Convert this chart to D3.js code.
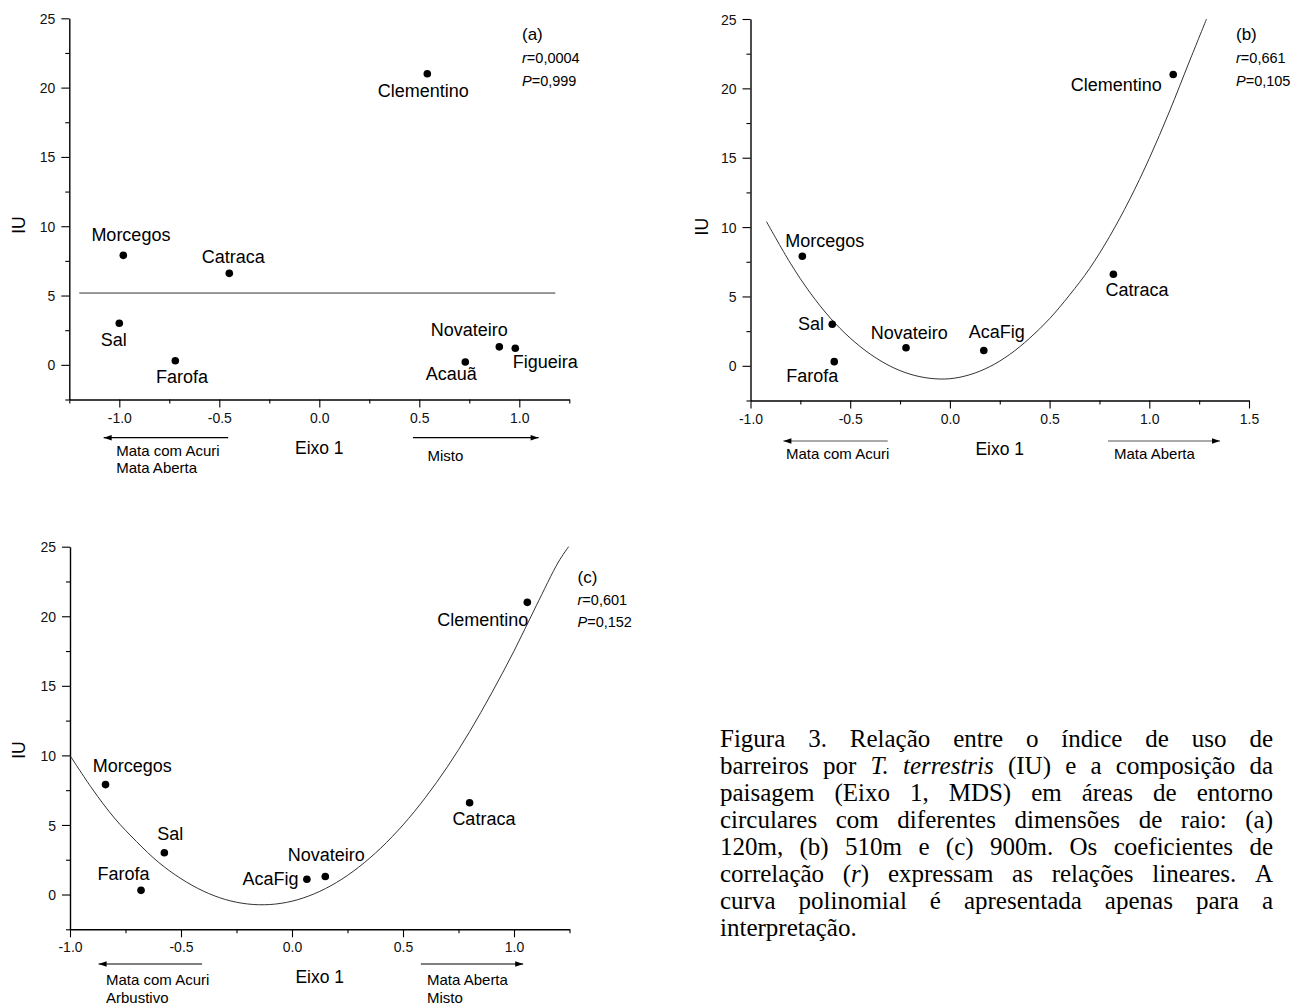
<!DOCTYPE html>
<html><head><meta charset="utf-8">
<script src="https://cdn.jsdelivr.net/npm/d3@7/dist/d3.min.js"></script>
<style>body{margin:0;background:#fff}svg{display:block}</style>
</head><body>
<svg id="chart" width="1305" height="1006"></svg>
<script>
// ---------------- DATA ----------------
const yDomain = [-2.5, 25];
const yMajorTicks = [0, 5, 10, 15, 20, 25];
const yMinorTicks = [-2.5, 2.5, 7.5, 12.5, 17.5, 22.5];

// Panel (a) 120 m
const namesA = ["Clementino", "Morcegos", "Catraca", "Sal", "Farofa", "Novateiro", "Figueira", "Acauã"];
const eixoA  = [0.54, -0.98, -0.45, -1.00, -0.72, 0.90, 0.98, 0.73];
const iuA    = [21.0, 7.9, 6.6, 3.0, 0.3, 1.3, 1.2, 0.2];
const fitLineA = [[-1.20, 5.18], [1.18, 5.18]];
const xMajorA = [-1.0, -0.5, 0.0, 0.5, 1.0];
const xMinorA = [-1.25, -0.75, -0.25, 0.25, 0.75, 1.25];
const statsA = ["(a)", "0,0004", "0,999"];

// Panel (b) 510 m
const namesB = ["Clementino", "Morcegos", "Catraca", "Sal", "Farofa", "Novateiro", "AcaFig"];
const eixoB  = [1.12, -0.74, 0.82, -0.59, -0.58, -0.22, 0.17];
const iuB    = [21.0, 7.9, 6.6, 3.0, 0.3, 1.3, 1.1];
const curveXB = [-0.92, -0.8, -0.7, -0.6, -0.5, -0.4, -0.3, -0.2, -0.1, 0.0, 0.1, 0.2, 0.3, 0.4, 0.5, 0.6, 0.7, 0.8, 0.9, 1.0, 1.1, 1.2, 1.287];
const curveYB = [10.4, 7.4, 5.25, 3.45, 2.0, 0.85, -0.02, -0.6, -0.9, -0.93, -0.64, -0.06, 0.82, 1.99, 3.4, 5.1, 7.0, 9.3, 11.95, 14.95, 18.3, 21.9, 25.0];
const xMajorB = [-1.0, -0.5, 0.0, 0.5, 1.0, 1.5];
const xMinorB = [-0.75, -0.25, 0.25, 0.75, 1.25];
const statsB = ["(b)", "0,661", "0,105"];

// Panel (c) 900 m
const namesC = ["Clementino", "Morcegos", "Catraca", "Sal", "Farofa", "Novateiro", "AcaFig"];
const eixoC  = [1.06, -0.84, 0.80, -0.575, -0.68, 0.15, 0.067];
const iuC    = [21.0, 7.9, 6.6, 3.0, 0.3, 1.3, 1.1];
const curveXC = [-1.0, -0.9, -0.8, -0.7, -0.6, -0.5, -0.4, -0.3, -0.2, -0.1, 0.0, 0.1, 0.2, 0.3, 0.4, 0.5, 0.6, 0.7, 0.8, 0.9, 1.0, 1.1, 1.2, 1.246];
const curveYC = [10.0, 7.6, 5.5, 3.8, 2.3, 1.14, 0.25, -0.36, -0.68, -0.72, -0.48, 0.05, 0.86, 1.96, 3.34, 5.0, 6.95, 9.18, 11.7, 14.5, 17.5, 20.75, 23.9, 25.0];
const xMajorC = [-1.0, -0.5, 0.0, 0.5, 1.0];
const xMinorC = [-0.75, -0.25, 0.25, 0.75, 1.25];
const statsC = ["(c)", "0,601", "0,152"];

const xTitle = "Eixo 1";
const yTitle = "IU";

const gradientA = [["Mata com Acuri", "Mata Aberta"], ["Misto"]];
const gradientB = [["Mata com Acuri"], ["Mata Aberta"]];
const gradientC = [["Mata com Acuri", "Arbustivo"], ["Mata Aberta", "Misto"]];

const captionLines = [
  "Figura 3. Relação entre o índice de uso de",
  "barreiros por *T.* *terrestris* (IU) e a composição da",
  "paisagem (Eixo 1, MDS) em áreas de entorno",
  "circulares com diferentes dimensões de raio: (a)",
  "120m, (b) 510m e (c) 900m. Os coeficientes de",
  "correlação (*r*) expressam as relações lineares. A",
  "curva polinomial é apresentada apenas para a",
  "interpretação."
];

// ---------------- LAYOUT ----------------
const SANS = "'Liberation Sans', Arial, Helvetica, sans-serif";
const SERIF = "'Liberation Serif', 'Times New Roman', serif";
const svg = d3.select("#chart");
svg.append("rect").attr("width", 1305).attr("height", 1006).attr("fill", "#fff");

const panels = [
  {
    names: namesA, eixo: eixoA, iu: iuA, fit: fitLineA, curve: false,
    xDomain: [-1.25, 1.25], xRange: [69.3, 569.3], yRange: [399.5, 18.3],
    xMajor: xMajorA, xMinor: xMinorA, stats: statsA,
    statsPos: [522, 39.5, 63, 86],
    yTitlePos: [19, 225],
    labels: {
      "Clementino": [-4, 23, "middle"], "Morcegos": [7.6, -14, "middle"],
      "Catraca": [4, -10, "middle"], "Sal": [-5.5, 23, "middle"],
      "Farofa": [6.7, 22.4, "middle"], "Novateiro": [-30, -11, "middle"],
      "Figueira": [30, 19.4, "middle"], "Acauã": [-14, 18.3, "middle"]
    },
    gradient: gradientA,
    arrows: [[103.7, 228.2, 437.7, "left"], [412.9, 538.6, 437.7, "right"]],
    arrowColor: "#000",
    gradText: [[116.2, 455.7, 17.6], [427.4, 461, 17.6]]
  },
  {
    names: namesB, eixo: eixoB, iu: iuB, curveX: curveXB, curveY: curveYB, curve: true,
    xDomain: [-1.0, 1.5], xRange: [750.5, 1249], yRange: [400.5, 19],
    xMajor: xMajorB, xMinor: xMinorB, stats: statsB,
    statsPos: [1236, 39.5, 63, 86],
    yTitlePos: [702, 226.7],
    labels: {
      "Clementino": [-11.5, 17, "end"], "Morcegos": [22.5, -9.7, "middle"],
      "Catraca": [23.6, 22, "middle"], "Sal": [-8.2, 6, "end"],
      "Farofa": [-22, 20, "middle"], "Novateiro": [3.3, -9, "middle"],
      "AcaFig": [13, -12.7, "middle"]
    },
    gradient: gradientB,
    arrows: [[783.4, 887.7, 441, "left"], [1108, 1220, 441, "right"]],
    arrowColor: "#555",
    gradText: [[786, 459.3, 17.6], [1114, 459.3, 17.6]]
  },
  {
    names: namesC, eixo: eixoC, iu: iuC, curveX: curveXC, curveY: curveYC, curve: true,
    xDomain: [-1.0, 1.25], xRange: [70, 569.5], yRange: [929.3, 546.7],
    xMajor: xMajorC, xMinor: xMinorC, stats: statsC,
    statsPos: [577.5, 583, 605, 627],
    yTitlePos: [19, 750],
    labels: {
      "Clementino": [1, 23.3, "end"], "Morcegos": [26.8, -13, "middle"],
      "Catraca": [14.3, 22.7, "middle"], "Sal": [5.8, -12.7, "middle"],
      "Farofa": [-17.6, -10, "middle"], "Novateiro": [1, -15.3, "middle"],
      "AcaFig": [-8.3, 5.3, "end"]
    },
    gradient: gradientC,
    arrows: [[98.6, 202.1, 964, "left"], [420.9, 523.2, 964, "right"]],
    arrowColor: "#000",
    gradText: [[106, 985, 17.6], [427, 985, 17.6]]
  }
];

function drawPanel(p) {
  const g = svg.append("g");
  const x = d3.scaleLinear().domain(p.xDomain).range(p.xRange);
  const y = d3.scaleLinear().domain(yDomain).range(p.yRange);

  // X axis
  const gx = g.append("g").attr("transform", `translate(0,${p.yRange[0]})`);
  gx.call(d3.axisBottom(x).tickValues(p.xMajor).tickFormat(v => v.toFixed(1)).tickSize(8).tickSizeOuter(0));
  gx.append("g").call(d3.axisBottom(x).tickValues(p.xMinor).tickFormat("").tickSize(4).tickSizeOuter(0))
    .select(".domain").remove();
  gx.attr("font-family", SANS).attr("font-size", 14);
  gx.selectAll(".tick text").attr("y", 23).attr("dy", null).attr("fill", "#111");

  // Y axis
  const gy = g.append("g").attr("transform", `translate(${p.xRange[0]},0)`);
  gy.call(d3.axisLeft(y).tickValues(yMajorTicks).tickFormat(d3.format("d")).tickSize(8).tickPadding(6).tickSizeOuter(0));
  gy.append("g").call(d3.axisLeft(y).tickValues(yMinorTicks).tickFormat("").tickSize(4).tickSizeOuter(0))
    .select(".domain").remove();
  gy.attr("font-family", SANS).attr("font-size", 14);
  gy.selectAll(".tick text").attr("fill", "#111").attr("dy", "0.36em");

  g.selectAll(".domain").attr("stroke", "#000").attr("stroke-width", 1.4);
  g.selectAll(".tick line").attr("stroke", "#000").attr("stroke-width", 1.1);

  // fit line / curve
  const line = d3.line().x(d => x(d[0])).y(d => y(d[1]));
  if (p.curve) {
    const pts = d3.zip(p.curveX, p.curveY);
    g.append("path").attr("d", line.curve(d3.curveCatmullRom.alpha(0.5))(pts))
      .attr("fill", "none").attr("stroke", "#333").attr("stroke-width", 1);
  } else {
    g.append("path").attr("d", line(p.fit))
      .attr("fill", "none").attr("stroke", "#333").attr("stroke-width", 1);
  }

  // points
  const pts = p.names.map((n, i) => ({ n, x: p.eixo[i], y: p.iu[i] }));
  g.selectAll("circle.pt").data(pts).join("circle").attr("class", "pt")
    .attr("cx", d => x(d.x)).attr("cy", d => y(d.y)).attr("r", 3.8).attr("fill", "#000");
  g.selectAll("text.lbl").data(pts).join("text").attr("class", "lbl")
    .attr("x", d => x(d.x) + p.labels[d.n][0])
    .attr("y", d => y(d.y) + p.labels[d.n][1])
    .attr("text-anchor", d => p.labels[d.n][2])
    .attr("font-family", SANS).attr("font-size", 18).attr("fill", "#000")
    .text(d => d.n);

  // stats
  const [sx, s0, s1, s2] = p.statsPos;
  g.append("text").attr("x", sx).attr("y", s0).attr("font-family", SANS).attr("font-size", 17).text(p.stats[0]);
  const tr = g.append("text").attr("x", sx).attr("y", s1).attr("font-family", SANS).attr("font-size", 14.5);
  tr.append("tspan").attr("font-style", "italic").text("r");
  tr.append("tspan").text("=" + p.stats[1]);
  const tp = g.append("text").attr("x", sx).attr("y", s2).attr("font-family", SANS).attr("font-size", 14.5);
  tp.append("tspan").attr("font-style", "italic").text("P");
  tp.append("tspan").text("=" + p.stats[2]);

  // axis titles
  const midX = (p.xRange[0] + p.xRange[1]) / 2;
  g.append("text").attr("x", midX).attr("y", p.yRange[0] + 54).attr("text-anchor", "middle")
    .attr("font-family", SANS).attr("font-size", 17.5).text(xTitle);
  g.append("text").attr("transform", `translate(${p.yTitlePos[0]},${p.yTitlePos[1]}) rotate(-90)`)
    .attr("text-anchor", "middle").attr("dominant-baseline", "central")
    .attr("font-family", SANS).attr("font-size", 17.5).text(yTitle);

  // gradient arrows
  p.arrows.forEach(([x0, x1, ay, dir]) => {
    g.append("line").attr("x1", x0).attr("x2", x1).attr("y1", ay).attr("y2", ay)
      .attr("stroke", p.arrowColor).attr("stroke-width", 1.2);
    const hx = dir === "left" ? x0 : x1;
    const s = dir === "left" ? 1 : -1;
    g.append("path").attr("d", `M${hx},${ay} L${hx + s * 8},${ay - 2.8} L${hx + s * 8},${ay + 2.8} Z`).attr("fill", "#000");
  });
  p.gradient.forEach((lines, k) => {
    const [tx, ty, lh] = p.gradText[k];
    lines.forEach((t, j) => {
      g.append("text").attr("x", tx).attr("y", ty + j * lh)
        .attr("font-family", SANS).attr("font-size", 15).text(t);
    });
  });
}

panels.forEach(drawPanel);

// ---------------- CAPTION (justified) ----------------
function drawCaption(lines, x0, x1, y0, lh, size) {
  const g = svg.append("g").attr("font-family", SERIF).attr("font-size", size).attr("fill", "#000");
  lines.forEach((line, i) => {
    const y = y0 + i * lh;
    const words = line.split(" ");
    const nodes = words.map(w => {
      const t = g.append("text").attr("y", y);
      w.split("*").forEach((seg, k) => {
        if (seg.length) t.append("tspan").attr("font-style", k % 2 ? "italic" : "normal").text(seg);
      });
      return t;
    });
    const widths = nodes.map(n => n.node().getComputedTextLength());
    const total = d3.sum(widths);
    const last = i === lines.length - 1;
    const gap = last ? size * 0.25 : (x1 - x0 - total) / (words.length - 1);
    let x = x0;
    nodes.forEach((n, j) => { n.attr("x", x); x += widths[j] + gap; });
  });
}
drawCaption(captionLines, 720, 1273, 747, 27, 25);
</script>
</body></html>
